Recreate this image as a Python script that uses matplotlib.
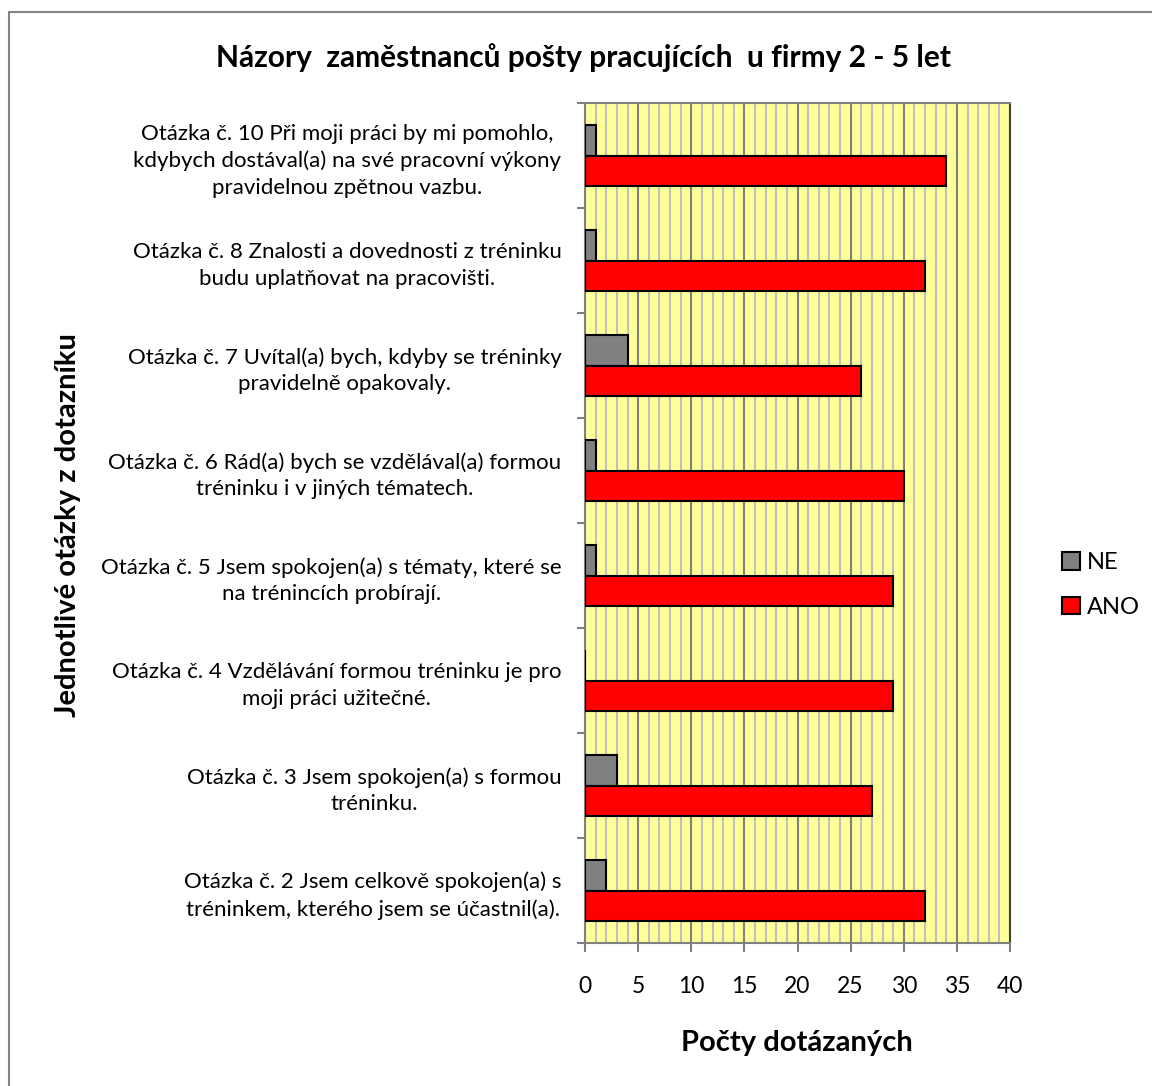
import numpy as np
import matplotlib.pyplot as plt
from matplotlib.patches import Rectangle

plt.rcParams['font.family'] = ['Lato', 'DejaVu Sans']

# data, bottom to top as drawn
questions = [
    "Otázka č. 2 Jsem celkově spokojen(a) s\ntréninkem, kterého jsem se účastnil(a).",
    "Otázka č. 3 Jsem spokojen(a) s formou\ntréninku.",
    "Otázka č. 4 Vzdělávání formou tréninku je pro\nmoji práci užitečné.",
    "Otázka č. 5 Jsem spokojen(a) s tématy, které se\nna trénincích probírají.",
    "Otázka č. 6 Rád(a) bych se vzdělával(a) formou\ntréninku i v jiných tématech.",
    "Otázka č. 7 Uvítal(a) bych, kdyby se tréninky\npravidelně opakovaly.",
    "Otázka č. 8 Znalosti a dovednosti z tréninku\nbudu uplatňovat na pracovišti.",
    "Otázka č. 10 Při moji práci by mi pomohlo,\nkdybych dostával(a) na své pracovní výkony\npravidelnou zpětnou vazbu.",
]
ne_counts = [2, 3, 0, 1, 1, 4, 1, 1]
ano_counts = [32, 27, 29, 29, 30, 26, 32, 34]
x_ticks = [0, 5, 10, 15, 20, 25, 30, 35, 40]

W, H = 1152, 1086
fig = plt.figure(figsize=(W / 100, H / 100), dpi=100)
ax = fig.add_axes([585 / W, 1 - 943 / H, 425 / W, 840 / H])

# outer chart border
fig.patches.append(Rectangle((9 / W, -0.05), 1.2, 1 - 12 / H + 0.05,
                             transform=fig.transFigure, fill=False,
                             edgecolor="#868686", linewidth=1.5))

y = np.arange(len(questions))
h = 0.286
ax.barh(y + h / 2, ne_counts, height=h, color="#808080", edgecolor="black",
        linewidth=1.5, label="NE", zorder=3)
ax.barh(y - h / 2, ano_counts, height=h, color="#ff0000", edgecolor="black",
        linewidth=1.5, label="ANO", zorder=3)

ax.set_facecolor("#ffff99")
ax.set_xlim(0, 40)
ax.set_ylim(-0.5, len(questions) - 0.5)

ax.set_xticks(x_ticks)
ax.set_xticks(np.arange(0, 41, 1), minor=True)
ax.grid(axis="x", which="minor", color="#c0c0c0", linewidth=1.5, zorder=0)
ax.grid(axis="x", which="major", color="#808080", linewidth=1.5, zorder=0)
ax.tick_params(axis="x", which="minor", length=0)
ax.tick_params(axis="x", which="major", length=6.5, width=1.5, color="#808080",
               labelsize=16.5, pad=17)

ax.set_yticks(y)
ax.set_yticklabels(questions, multialignment="center", fontsize=16,
                   linespacing=1.4)
ax.set_yticks(np.arange(-0.5, len(questions), 1), minor=True)
ax.tick_params(axis="y", which="major", length=0, pad=17)
ax.tick_params(axis="y", which="minor", length=6, width=1.5, color="#808080")
ax.set_axisbelow(True)

for s in ["left", "top", "bottom"]:
    ax.spines[s].set_color("#808080")
    ax.spines[s].set_linewidth(1.5)
ax.spines["right"].set_color("#404040")
ax.spines["right"].set_linewidth(1.5)

fig.text(584 / W, 1 - 58 / H, "Názory  zaměstnanců pošty pracujících  u firmy 2 - 5 let",
         ha="center", va="center", fontsize=21.5, fontweight="bold")
fig.text(797 / W, 1 - 1043 / H, "Počty dotázaných", ha="center", va="center",
         fontsize=21, fontweight="bold")
fig.text(68 / W, 1 - 525 / H, "Jednotlivé otázky z dotazníku", ha="center",
         va="center", rotation=90, fontsize=21, fontweight="bold")

fig.legend(*ax.get_legend_handles_labels(), loc="center left",
           bbox_to_anchor=(1062 / W, 1 - 585 / H), frameon=False,
           fontsize=17, handlelength=0.75, handleheight=0.75,
           handletextpad=0.3, labelspacing=1.0, borderpad=0,
           borderaxespad=0)

fig.savefig("out.png", dpi=100, facecolor="white")
